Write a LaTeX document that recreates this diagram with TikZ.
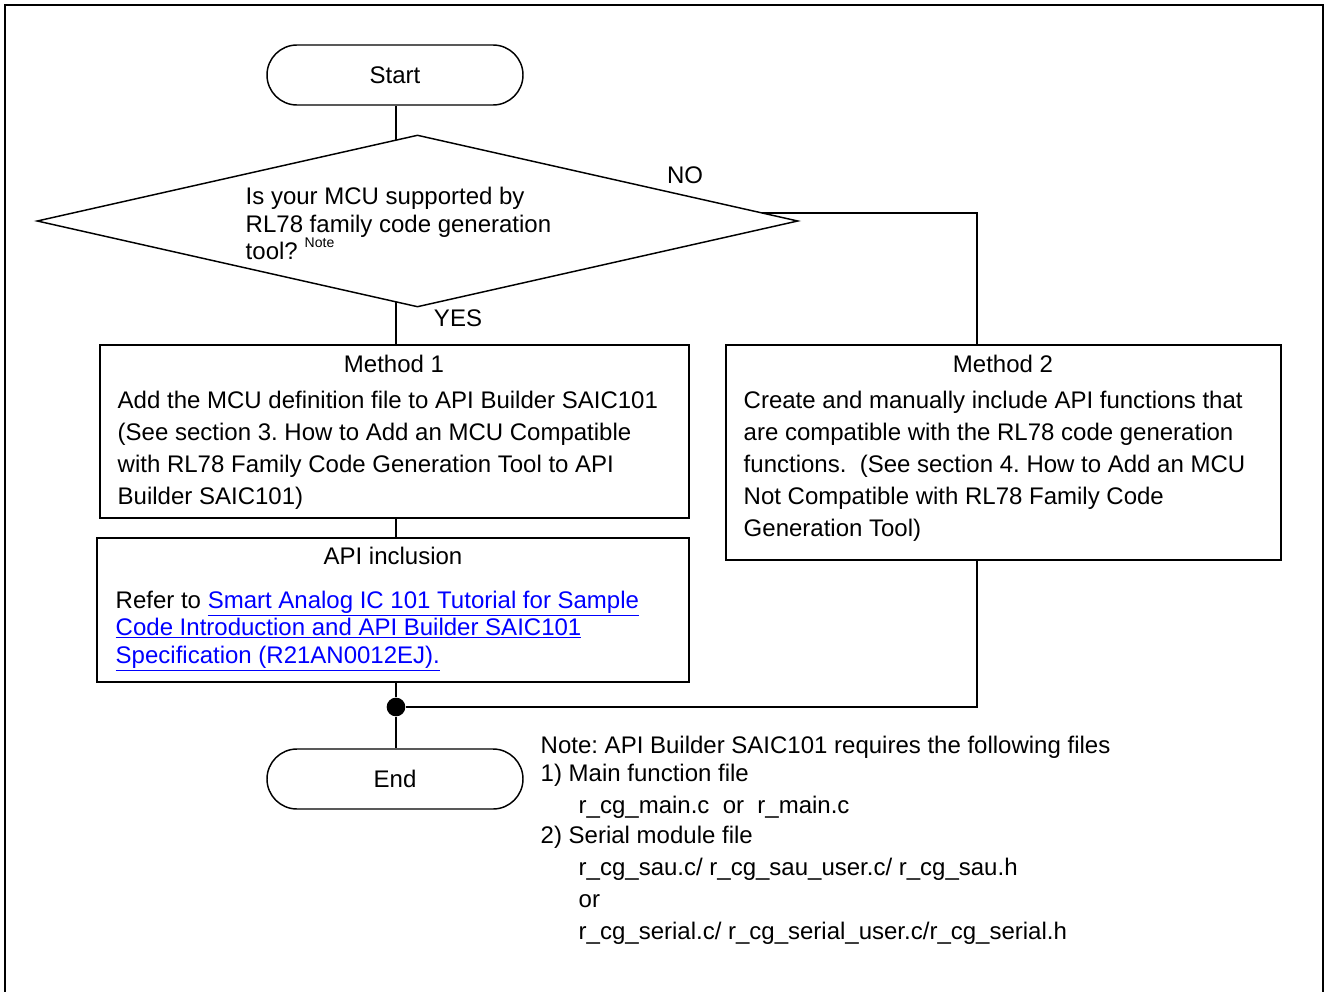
\documentclass[tikz,border=0pt]{standalone}
\usepackage{fontspec}
\setmainfont{Liberation Sans}
\usetikzlibrary{shapes.geometric,calc,backgrounds}
\definecolor{linkblue}{RGB}{0,0,255}
\newcommand{\lnk}[1]{\textcolor{linkblue}{\underline{#1}}}
\frenchspacing
\begin{document}
\begin{tikzpicture}[x=0.75pt,y=-0.75pt,line width=1.1pt,
  txt/.style={inner sep=0pt, anchor=base west, font=\fontsize{18}{21}\selectfont},
  ttl/.style={inner sep=0pt, anchor=base, font=\fontsize{18}{21}\selectfont},
  box/.style={draw, line width=1.1pt, inner sep=0pt, fill=white},
  term/.style={draw, rounded corners=22.5pt, minimum width=192pt, minimum height=45pt, inner sep=0pt, font=\fontsize{18}{21}\selectfont},
  jdot/.style={circle, fill=black, minimum size=14pt, inner sep=0pt},
  conn/.style={line width=1.1pt}]
\useasboundingbox (0,0) rectangle (1328,992);
% outer frame
\draw[line width=1.8pt] (5,992) -- (5,5) -- (1323,5) -- (1323,992);

% nodes
\node[term] (start) at (395,75) {Start};
\node[draw, diamond, minimum width=570.75pt, minimum height=129pt, inner sep=0pt, fill=white, line width=1.1pt] (dec) at (417.5,221) {};
\node[box, minimum width=441.75pt, minimum height=129.75pt] (m1) at (394.5,431.5) {};
\node[box, minimum width=416.25pt, minimum height=161.25pt] (m2) at (1003.5,452.5) {};
\node[box, minimum width=444pt, minimum height=108pt] (api) at (393,610) {};
\node[jdot] (j) at (396,707) {};
\node[term] (end) at (395,779) {End};
\coordinate (nob) at (977,213);

% connectors
\begin{scope}[on background layer]
\draw[conn] (start.south -| j) -- (dec.center -| j);
\draw[conn] (dec.center -| j) -- (m1.north -| j);
\draw[conn] (dec.center |- nob) -- (nob) -- (nob |- m2.north);
\draw[conn] (m1.south -| j) -- (api.north -| j);
\draw[conn] (api.south -| j) -- (j);
\draw[conn] (j) -- (end.north -| j);
\draw[conn] (m2.south -| nob) |- (j);
\end{scope}

% labels
\node[ttl, anchor=center] (no) at (685,175) {NO};
\node[ttl, anchor=center] (yes) at (458,318) {YES};

% decision text
\node[txt] (q1) at (245,204) {Is your MCU supported by};
\node[txt] (q2) at (245,232) {RL78 family code generation};
\node[txt] (q3) at (245,259) {tool?};
\node[inner sep=0pt, anchor=base west, font=\fontsize{10.5}{12}\selectfont] (qn) at (304,247) {Note};

% method 1
\node[ttl] (m1t) at (394,372) {Method 1};
\foreach \t [count=\i from 0] in {{Add the MCU definition file to API Builder SAIC101},{(See section 3. How to Add an MCU Compatible},{with RL78 Family Code Generation Tool to API},{Builder SAIC101)}}
  \node[txt] (m1l\i) at (117,408+32*\i) {\t};

% method 2
\node[ttl] (m2t) at (1003,372) {Method 2};
\foreach \t [count=\i from 0] in {{Create and manually include API functions that},{are compatible with the RL78 code generation},{functions.\ \ (See section 4. How to Add an MCU},{Not Compatible with RL78 Family Code},{Generation Tool)}}
  \node[txt] (m2l\i) at (743,408+32*\i) {\t};

% api inclusion
\node[ttl] (apit) at (393,564) {API inclusion};
\node[txt] (a1) at (115,608) {Refer to \lnk{Smart Analog IC 101 Tutorial for Sample}};
\node[txt] (a2) at (115,635) {\lnk{Code Introduction and API Builder SAIC101}};
\node[txt] (a3) at (115,663) {\lnk{Specification (R21AN0012EJ).}};

% note
\node[txt] (n1) at (540,753) {Note: API Builder SAIC101 requires the following files};
\node[txt] (n2) at (540,781) {1) Main function file};
\node[txt] (n3) at (578,813) {r\_cg\_main.c\ \ or\ \ r\_main.c};
\node[txt] (n4) at (540,843) {2) Serial module file};
\node[txt] (n5) at (578,875) {r\_cg\_sau.c/ r\_cg\_sau\_user.c/ r\_cg\_sau.h};
\node[txt] (n6) at (578,907) {or};
\node[txt] (n7) at (578,939) {r\_cg\_serial.c/ r\_cg\_serial\_user.c/r\_cg\_serial.h};
\end{tikzpicture}
\end{document}
